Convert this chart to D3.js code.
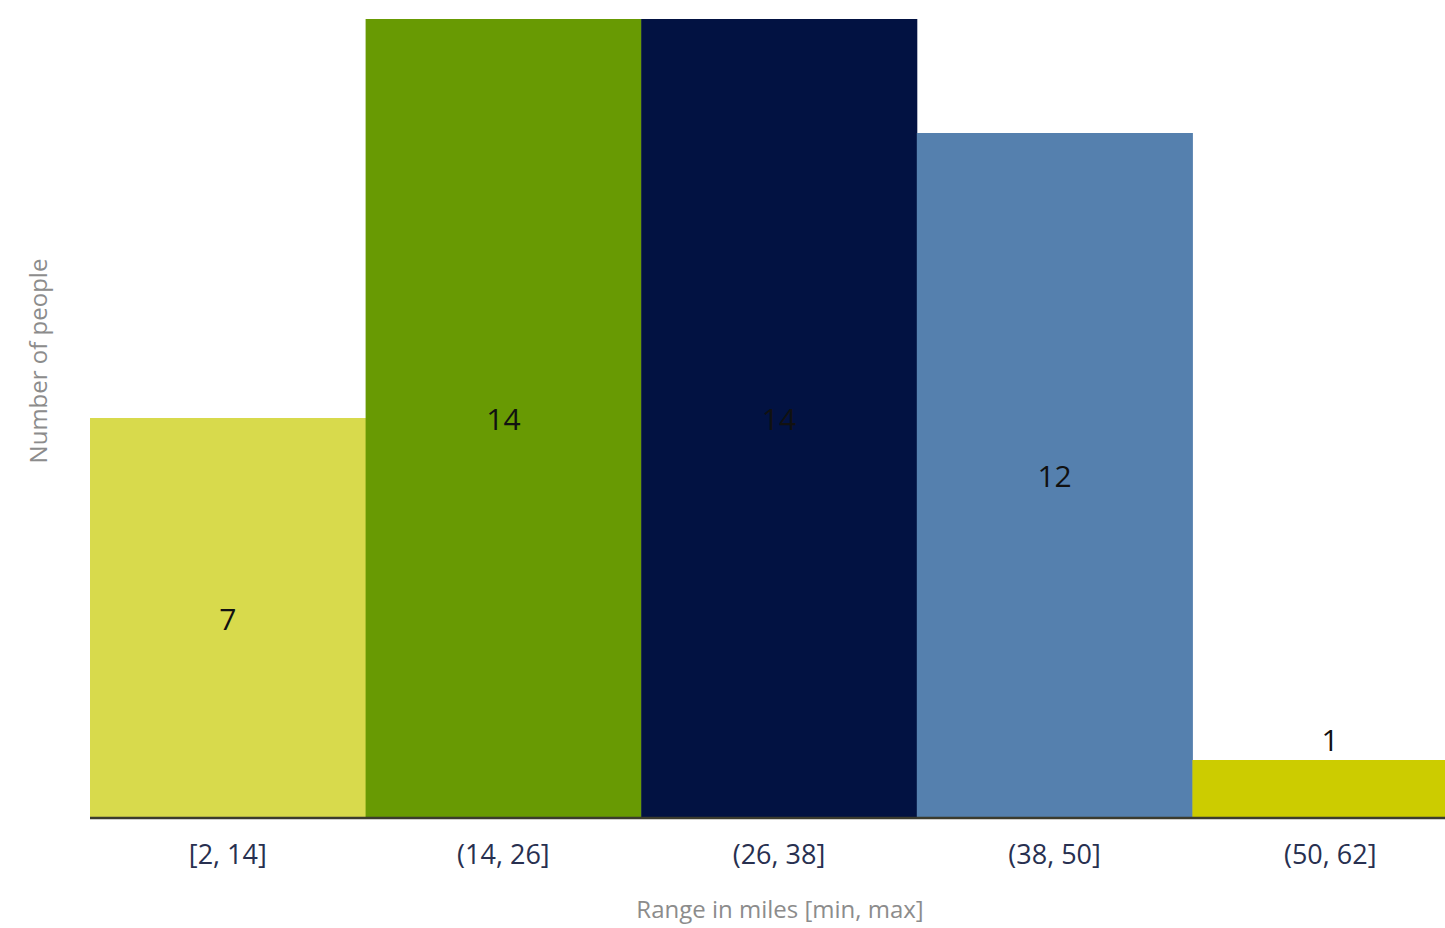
<!DOCTYPE html>
<html>
<head>
<meta charset="utf-8">
<script src="https://cdn.jsdelivr.net/npm/d3@7"></script>
<style>
  body { margin: 0; background: #fff; overflow: hidden; }
  text { font-family: "Open Sans", "Noto Sans", sans-serif; }
</style>
</head>
<body>
<svg></svg>
<script>
var categories = ["[2, 14]", "(14, 26]", "(26, 38]", "(38, 50]", "(50, 62]"];
var counts = [7, 14, 14, 12, 1];
var barColors = ["#d8da4c", "#689a03", "#021242", "#5580ae", "#cccc00"];

var screen = { width: 1445, height: 928 };
var margins = { top: 19, bottom: 111, left: 90, right: 0 };

var svg = d3.select("svg")
  .attr("width", screen.width)
  .attr("height", screen.height);

var height = screen.height - margins.top - margins.bottom;

// last bar runs past the right edge in the original
var xScale = d3.scaleBand()
  .domain(categories)
  .range([margins.left, margins.left + 5 * 275.6])
  .padding(0);

var yScale = d3.scaleLinear()
  .domain([0, 14])
  .range([margins.top + height, margins.top]);

svg.selectAll("rect.bar")
  .data(counts)
  .enter()
  .append("rect")
  .attr("class", "bar")
  .attr("x", function(d, i) { return xScale(categories[i]); })
  .attr("y", function(d) { return yScale(d); })
  .attr("width", xScale.bandwidth() + 0.5)
  .attr("height", function(d) { return yScale(0) - yScale(d); })
  .attr("fill", function(d, i) { return barColors[i]; });

// value labels: centred in bar, or above it when the bar is too short
svg.selectAll("text.val")
  .data(counts)
  .enter()
  .append("text")
  .attr("class", "val")
  .attr("x", function(d, i) { return xScale(categories[i]) + xScale.bandwidth() / 2; })
  .attr("y", function(d) {
    if (d < 2) return yScale(d) - 9;
    return (yScale(d) + yScale(0)) / 2 + 12;
  })
  .attr("text-anchor", "middle")
  .attr("font-size", 30)
  .attr("fill", "#111")
  .text(function(d) { return d; });

var xAxis = d3.axisBottom(xScale).tickSize(0).tickPadding(28);

var gx = svg.append("g")
  .attr("transform", "translate(0," + yScale(0) + ")")
  .call(xAxis);

gx.select(".domain").remove();
gx.selectAll("text")
  .attr("font-family", "'Open Sans', sans-serif")
  .attr("font-size", 27)
  .attr("fill", "#283050");

svg.append("line")
  .attr("x1", margins.left)
  .attr("x2", screen.width)
  .attr("y1", yScale(0) + 1)
  .attr("y2", yScale(0) + 1)
  .attr("stroke", "#3b3b2e")
  .attr("stroke-width", 2.5);

svg.append("text")
  .attr("x", 780)
  .attr("y", 918)
  .attr("text-anchor", "middle")
  .attr("font-size", 24)
  .attr("fill", "#8c8c8c")
  .text("Range in miles [min, max]");

svg.append("text")
  .attr("transform", "translate(47,361) rotate(-90)")
  .attr("text-anchor", "middle")
  .attr("font-size", 24)
  .attr("fill", "#8c8c8c")
  .text("Number of people");
</script>
</body>
</html>
